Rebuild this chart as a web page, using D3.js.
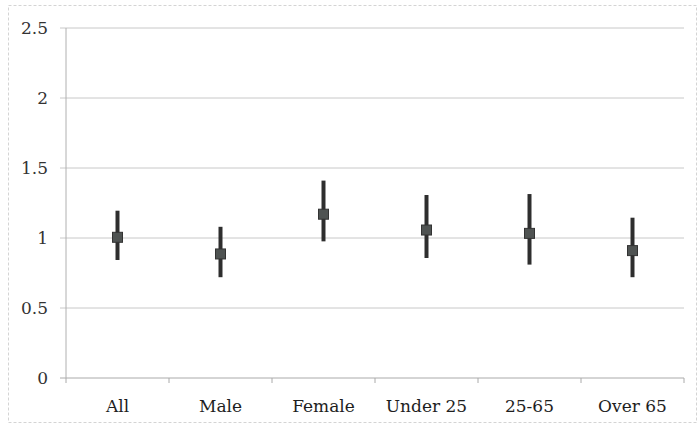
<!DOCTYPE html>
<html>
<head>
<meta charset="utf-8">
<script src="https://cdn.jsdelivr.net/npm/d3@7"></script>
<style>
  body { margin: 0; background: #fff; }
  text { font-family: "DejaVu Serif", "Liberation Serif", serif; }
</style>
</head>
<body>
<div id="chart"></div>
<script>
var categories = ["All", "Male", "Female", "Under 25", "25-65", "Over 65"];
var estimates  = [1.005, 0.886, 1.17, 1.057, 1.033, 0.91];
var lowerCI    = [0.843, 0.72, 0.976, 0.857, 0.81, 0.72];
var upperCI    = [1.195, 1.08, 1.41, 1.307, 1.314, 1.145];
var yTicks     = [0, 0.5, 1, 1.5, 2, 2.5];

var width = 700, height = 427;
var margin = {left: 66, right: 16, top: 28, bottom: 49};

var svg = d3.select("#chart").append("svg")
    .attr("width", width)
    .attr("height", height);

// outer frame
svg.append("rect")
    .attr("x", 8.5).attr("y", 5.5)
    .attr("width", 688).attr("height", 417)
    .attr("fill", "none")
    .attr("stroke", "#d4d4d4")
    .attr("stroke-dasharray", "3,2");

var x = d3.scaleBand()
    .domain(categories)
    .range([margin.left, width - margin.right]);

var y = d3.scaleLinear()
    .domain([0, 2.5])
    .range([height - margin.bottom, margin.top]);

// gridlines
svg.append("g")
    .selectAll("line").data(yTicks).enter()
    .append("line")
    .attr("x1", margin.left - 6)
    .attr("x2", width - margin.right)
    .attr("y1", function(d) { return y(d); })
    .attr("y2", function(d) { return y(d); })
    .attr("stroke", function(d) { return d === 0 ? "#aaa" : "#c8c8c8"; })
    .attr("stroke-width", 1);

// y axis line
svg.append("line")
    .attr("x1", margin.left).attr("x2", margin.left)
    .attr("y1", y(2.5)).attr("y2", y(0))
    .attr("stroke", "#b0b0b0");

// x ticks at category boundaries
var bounds = categories.map(function(c) { return x(c); }).concat([x.range()[1]]);
svg.append("g")
    .selectAll("line").data(bounds).enter()
    .append("line")
    .attr("x1", function(d) { return d; })
    .attr("x2", function(d) { return d; })
    .attr("y1", y(0)).attr("y2", y(0) + 5)
    .attr("stroke", "#aaa");

// y tick labels
svg.append("g")
    .selectAll("text").data(yTicks).enter()
    .append("text")
    .attr("x", 48)
    .attr("y", function(d) { return y(d) + 6; })
    .attr("text-anchor", "end")
    .attr("font-size", 17)
    .attr("fill", "#333")
    .text(function(d) { return d; });

// x labels
svg.append("g")
    .selectAll("text").data(categories).enter()
    .append("text")
    .attr("x", function(d) { return x(d) + x.bandwidth() / 2; })
    .attr("y", 412)
    .attr("text-anchor", "middle")
    .attr("font-size", 17)
    .attr("fill", "#1e1e1e")
    .text(function(d) { return d; });

// error bars
svg.append("g")
    .selectAll("line").data(categories).enter()
    .append("line")
    .attr("x1", function(d) { return x(d) + x.bandwidth() / 2; })
    .attr("x2", function(d) { return x(d) + x.bandwidth() / 2; })
    .attr("y1", function(d, i) { return y(upperCI[i]); })
    .attr("y2", function(d, i) { return y(lowerCI[i]); })
    .attr("stroke", "#2e2e2e")
    .attr("stroke-width", 4);

// point markers
svg.append("g")
    .selectAll("rect").data(categories).enter()
    .append("rect")
    .attr("x", function(d) { return x(d) + x.bandwidth() / 2 - 5; })
    .attr("y", function(d, i) { return y(estimates[i]) - 5; })
    .attr("width", 10).attr("height", 10)
    .attr("fill", "#4f5352")
    .attr("stroke", "#333")
    .attr("stroke-width", 1);
</script>
</body>
</html>
